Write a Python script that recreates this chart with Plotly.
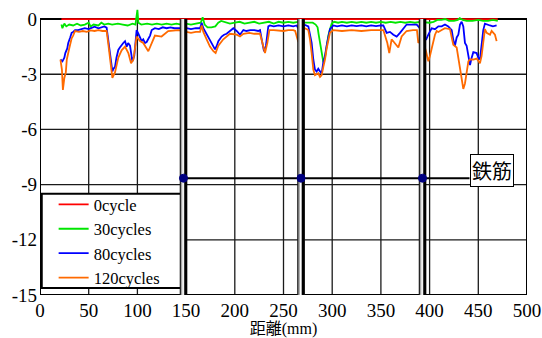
import plotly.graph_objects as go

# ---------------- data ----------------
x_ticks = [0, 50, 100, 150, 200, 250, 300, 350, 400, 450, 500]
y_ticks = [-15, -12, -9, -6, -3, 0]

series_names = ["0cycle", "30cycles", "80cycles", "120cycles"]

c0_x = [22, 60, 100, 150, 200, 250, 300, 350, 400, 450, 470]
c0_y = [0, 0, 0, 0, 0, 0, 0, 0, 0, 0, 0]

c30_x = [22, 23, 25, 27, 30, 34, 38, 42, 46, 50, 52, 55, 60, 63, 66, 70, 74, 80, 85, 90,
         95, 98, 100, 101, 104, 110, 115, 120, 125, 130, 135, 140, 145, 150, 155, 160, 165,
         167, 169, 172, 176, 180, 183, 186, 190, 195, 200, 205, 210, 215, 220, 225, 230,
         235, 240, 245, 250, 255, 260, 265, 270, 275, 280, 283, 285, 286, 287.5, 289.2,
         290.9, 292.6, 294.3, 296, 297.7, 299.5, 302, 306, 310, 315, 320, 325, 330, 335,
         340, 345, 350, 355, 360, 365, 370, 375, 380, 385, 390, 396, 400, 404, 408, 412,
         416, 420, 425, 429, 431, 434, 438, 444, 450, 455, 460, 465, 470]
c30_y = [-0.3, -0.5, -0.25, -0.4, -0.3, -0.35, -0.25, -0.35, -0.3, -0.2, -0.4, -0.3, -0.35,
         -0.2, -0.3, -0.25, -0.3, -0.25, -0.3, -0.35, -0.25, -0.3, 0.5, -0.2, -0.3, -0.25,
         -0.3, -0.25, -0.3, -0.25, -0.3, -0.25, -0.3, -0.25, -0.3, -0.25, -0.2, 0.1, -0.3,
         -0.45, -0.45, -0.4, -0.2, -0.1, -0.15, -0.25, -0.2, -0.15, -0.25, -0.2, -0.15,
         -0.25, -0.2, -0.15, -0.25, -0.15, -0.2, -0.15, -0.2, -0.15, -0.2, -0.2, -0.2, -0.3,
         -0.45, -0.8, -1.3, -2.0, -2.35, -2.1, -1.45, -0.9, -0.55, -0.25, -0.15, -0.2, -0.15,
         -0.2, -0.15, -0.2, -0.15, -0.2, -0.15, -0.2, -0.15, -0.2, -0.15, -0.2, -0.15, -0.2,
         -0.15, -0.2, -0.15, -0.2, -0.2, -0.15, -0.05, -0.05, 0.0, -0.1, -0.1, -0.05, 0.05,
         -0.05, -0.1, -0.1, -0.05, -0.1, -0.1, -0.05, -0.1]

c80_x = [21, 23, 25, 26, 28, 29, 31, 32.5, 34, 36, 39, 43, 46, 50, 53, 56, 60, 63, 66, 68.4,
         70, 71.5, 72.9, 74.3, 75.5, 77, 78.5, 80.4, 82, 83.8, 85.5, 87.3, 89, 90.5, 92.4,
         94, 94.8, 96.8, 98, 99.2, 101, 102.5, 104.4, 106, 107.8, 109.5, 111.2, 113, 114.7,
         118, 122, 126, 130, 134, 138, 142, 146, 150.6, 155, 160, 164.3, 166, 167.7, 171.1,
         174.5, 178, 179.7, 181.5, 183.1, 186.5, 189, 191.6, 195, 198.5, 201.9, 205.3, 208.8,
         212, 216, 220, 224, 225.9, 227.6, 230, 232, 234.4, 236.1, 240, 245, 250, 255, 260,
         263.5, 265.2, 268, 272, 275.5, 277.2, 278.9, 280.6, 282.3, 284, 285.7, 287.5, 289.2,
         290.9, 292.6, 294.3, 296, 297.7, 301.2, 305, 310, 315, 320, 325, 330, 335, 340, 345,
         350, 352.5, 355.9, 359.3, 362.8, 366.2, 369.6, 373, 376.4, 380, 386.8, 390, 396.3,
         398.7, 400.4, 402.1, 405.5, 409, 412.4, 415.8, 419.2, 422.7, 424.3, 426, 427.8,
         429.5, 431.2, 432.9, 434.6, 436.3, 438, 439.8, 441.5, 443.2, 444.9, 448.3, 450,
         451.7, 453.4, 455.1, 456.8, 458.6, 462, 465, 468.8]
c80_y = [-2.2, -2.3, -2.1, -1.85, -1.6, -1.3, -1.0, -0.75, -0.7, -0.6, -0.6, -0.55, -0.5,
         -0.55, -0.47, -0.42, -0.5, -0.45, -0.4, -0.47, -1.13, -1.7, -2.3, -2.85, -2.7, -2.6,
         -2.1, -1.68, -1.55, -1.4, -1.3, -1.2, -1.5, -1.3, -1.45, -2.0, -2.3, -2.0, -1.2,
         -0.6, -0.8, -1.0, -1.2, -1.1, -1.3, -1.25, -1.1, -0.9, -0.6, -0.5, -0.55, -0.45,
         -0.5, -0.45, -0.5, -0.5, -0.5, -0.5, -0.55, -0.5, -0.5, -0.2, -0.5, -0.85, -1.2,
         -1.55, -1.65, -1.45, -1.2, -0.95, -0.85, -0.8, -0.65, -0.5, -0.65, -0.85, -0.6,
         -0.65, -0.6, -0.6, -0.65, -0.6, -1.1, -1.75, -1.45, -0.4, -0.35, -0.4, -0.35, -0.4,
         -0.35, -0.4, -0.35, -0.5, -0.4, -0.32, -0.4, -0.85, -1.3, -2.2, -2.75, -2.85, -2.7,
         -2.85, -2.95, -2.35, -2.0, -1.45, -0.9, -0.55, -0.35, -0.4, -0.35, -0.4, -0.35,
         -0.38, -0.35, -0.4, -0.35, -0.38, -0.35, -0.35, -0.75, -0.7, -0.85, -0.95, -0.75,
         -0.5, -0.3, -0.3, -0.3, -0.5, -1.13, -0.85, -0.65, -0.5, -0.55, -0.4, -0.4, -0.3,
         -0.4, -0.6, -1.13, -1.45, -1.0, -0.85, -0.3, -0.15, -0.4, -1.3, -1.45, -2.0, -2.5,
         -2.1, -1.8, -1.85, -2.1, -2.2, -1.5, -0.6, -0.25, -0.3, -0.35, -0.4, -0.35]

c120_x = [21, 22.5, 23.5, 25, 26.5, 27.5, 30, 32.5, 34, 36, 40, 44, 48, 52, 56, 60, 64, 68.4,
          70, 72.9, 74.3, 77, 80.4, 83.8, 87.3, 90.7, 93.5, 95.9, 99.2, 102.7, 106, 111.2,
          114.7, 118, 124.8, 128.2, 131.6, 142, 146, 150.6, 155, 160, 164.3, 166, 167.7,
          171.1, 174.5, 178, 180.3, 183.1, 188.2, 195, 201.9, 205.3, 208.8, 215, 220, 225.9,
          228.6, 231, 233.4, 235.5, 240, 250, 255, 260, 262, 265.2, 268, 272, 275.5, 277.2,
          278.9, 280.6, 282.3, 285.7, 287.5, 289.2, 290.9, 292.6, 294.3, 296, 297.7, 301.2,
          310, 320, 330, 340, 352.5, 356.6, 358.6, 361, 364.5, 367.9, 371.3, 376.4, 383, 387,
          388.4, 392, 396.3, 398.7, 400.4, 402.1, 403.8, 405.5, 407.3, 409, 412.4, 415.8,
          420.9, 422.7, 424.3, 427.8, 429.5, 431.2, 432.9, 434.6, 436.3, 438, 439.8, 441.5,
          444.9, 448.3, 451.7, 453.4, 455.1, 456.8, 458.6, 462, 463.7, 467.1, 468.8]
c120_y = [-2.2, -2.75, -3.85, -3.2, -2.9, -2.2, -1.6, -1.05, -0.9, -0.65, -0.7, -0.65, -0.7,
          -0.62, -0.65, -0.6, -0.65, -0.65, -1.3, -2.75, -3.2, -2.9, -2.1, -1.7, -1.5, -1.85,
          -2.4, -2.2, -0.95, -1.2, -1.3, -1.75, -1.3, -0.9, -0.95, -0.8, -0.65, -0.6, -0.65,
          -0.7, -0.75, -0.7, -0.7, -0.35, -0.7, -1.1, -1.5, -1.75, -1.85, -1.45, -1.1, -0.8,
          -0.85, -0.95, -0.8, -0.75, -0.8, -0.8, -1.45, -1.85, -1.3, -0.6, -0.6, -0.65, -0.6,
          -0.6, -0.65, -1.25, -0.7, -0.5, -0.6, -1.1, -1.85, -2.75, -3.05, -2.95, -3.15,
          -3.05, -2.6, -2.2, -1.6, -1.1, -0.75, -0.6, -0.65, -0.6, -0.65, -0.6, -0.6, -1.3,
          -1.85, -1.1, -1.3, -1.55, -0.95, -0.65, -0.6, -0.6, -1.3, -1.0, -1.75, -2.3, -2.0,
          -1.65, -1.2, -0.85, -0.65, -0.7, -0.6, -0.5, -0.55, -0.95, -1.4, -1.55, -2.15,
          -2.85, -3.3, -3.8, -3.5, -2.85, -2.3, -2.2, -2.2, -2.15, -2.4, -2.0, -1.1, -0.55,
          -0.75, -0.85, -0.65, -0.85, -1.2]

series_x = [c0_x, c30_x, c80_x, c120_x]
series_y = [c0_y, c30_y, c80_y, c120_y]
series_colors = ["#ff0000", "#00e600", "#0000ff", "#ff6a00"]

rebar_x = [147.3, 268.0, 392.7]
rebar_y = -8.65
rebar_label = "鉄筋"
x_title = "距離(mm)"

# ---------------- figure ----------------
SERIF = "Liberation Serif"
CJK = "Noto Sans CJK JP"

fig = go.Figure()
for name, xs, ys, col in zip(series_names, series_x, series_y, series_colors):
    fig.add_trace(go.Scatter(x=xs, y=ys, mode="lines", name=name,
                             line=dict(color=col, width=1.8), hoverinfo="skip"))

shapes = []
# gridlines
for v in x_ticks[1:-1]:
    shapes.append(dict(type="line", xref="x", yref="y", x0=v, x1=v, y0=-15, y1=0,
                       line=dict(color="#1a1a1a", width=1.3), layer="below"))
for v in y_ticks[1:-1]:
    shapes.append(dict(type="line", xref="x", yref="y", x0=0, x1=500, y0=v, y1=v,
                       line=dict(color="#1a1a1a", width=1.3), layer="below"))
# frame
shapes.append(dict(type="rect", xref="x", yref="y", x0=0, x1=500, y0=-15, y1=0,
                   line=dict(color="black", width=2), layer="below"))
# legend box
shapes.append(dict(type="rect", xref="x", yref="y", x0=1.8, x1=146.2, y0=-14.62, y1=-9.5,
                   fillcolor="white", line=dict(color="black", width=2), layer="below"))
# rebar bars
for c in rebar_x:
    shapes.append(dict(type="rect", xref="x", yref="y", x0=c - 3.6, x1=c + 3.6, y0=-15, y1=0,
                       fillcolor="#a6a6a6", line=dict(width=0), layer="above"))
    shapes.append(dict(type="line", xref="x", yref="y", x0=c - 3.3, x1=c - 3.3, y0=-15, y1=0,
                       line=dict(color="black", width=1), layer="above"))
    shapes.append(dict(type="line", xref="x", yref="y", x0=c - 0.4, x1=c - 0.4, y0=-15, y1=0,
                       line=dict(color="white", width=1.5), layer="above"))
    shapes.append(dict(type="line", xref="x", yref="y", x0=c + 2.4, x1=c + 2.4, y0=-15, y1=0,
                       line=dict(color="black", width=3), layer="above"))
# rebar horizontal line
shapes.append(dict(type="line", xref="x", yref="y", x0=rebar_x[0], x1=441, y0=rebar_y, y1=rebar_y,
                   line=dict(color="black", width=2), layer="above"))
# rebar dots
for c in rebar_x:
    shapes.append(dict(type="circle", xref="x", yref="y", xsizemode="pixel", ysizemode="pixel",
                       xanchor=c, yanchor=rebar_y, x0=-4, x1=4, y0=-4, y1=4,
                       fillcolor="#000080", line=dict(color="#000080", width=1), layer="above"))

fig.update_layout(
    width=542, height=338,
    margin=dict(l=40, r=15, t=8, b=43, autoexpand=False),
    paper_bgcolor="white", plot_bgcolor="white",
    shapes=shapes,
    showlegend=True,
    legend=dict(x=0.028, y=0.376, xanchor="left", yanchor="top",
                bgcolor="rgba(0,0,0,0)", borderwidth=0,
                font=dict(family=SERIF, size=16.5, color="black"),
                tracegroupgap=0),
    annotations=[dict(x=464, y=-8.22, xref="x", yref="y", text=rebar_label, showarrow=False,
                      font=dict(family=CJK, size=20, color="black"),
                      bgcolor="white", bordercolor="black", borderwidth=1, borderpad=1)],
)
fig.update_xaxes(range=[0, 500], tickvals=x_ticks, ticktext=[str(v) for v in x_ticks],
                 showgrid=False, zeroline=False, showline=False, ticks="", automargin=False,
                 ticklabelstandoff=2,
                 tickfont=dict(family=SERIF, size=19, color="black"),
                 title=dict(text=x_title, font=dict(family=SERIF + ", " + CJK, size=16, color="black"),
                            standoff=1))
fig.update_yaxes(range=[-15, 0.6], tickvals=y_ticks, ticktext=[str(v) for v in y_ticks],
                 showgrid=False, zeroline=False, showline=False, ticks="", automargin=False,
                 ticklabelstandoff=2,
                 tickfont=dict(family=SERIF, size=19, color="black"))

fig.write_html("out.html")
